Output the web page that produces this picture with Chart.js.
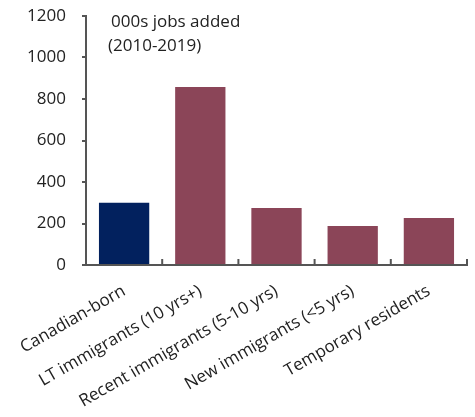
<!DOCTYPE html>
<html>
<head>
<meta charset="utf-8">
<script src="https://cdn.jsdelivr.net/npm/chart.js@4/dist/chart.umd.min.js"></script>
<style>
  html, body { margin: 0; padding: 0; background: #fff; }
  #wrap { width: 475px; height: 417px; position: relative; }
</style>
</head>
<body>
<div id="wrap"><canvas id="c"></canvas></div>
<script>
const categories = ["Canadian-born", "LT immigrants (10 yrs+)", "Recent immigrants (5-10 yrs)", "New immigrants (<5 yrs)", "Temporary residents"];
const jobsAdded = [300, 858, 275, 188, 226];
const barColors = ["#02215E", "#8B4558", "#8B4558", "#8B4558", "#8B4558"];
const titleLines = ["000s jobs added", "(2010-2019)"];

const FONT = "'Open Sans', sans-serif";
const AXIS = "#555555";

const decor = {
  id: 'decor',
  afterDraw(chart) {
    const ctx = chart.ctx;
    const x = chart.scales.x;
    const area = chart.chartArea;
    ctx.save();
    ctx.strokeStyle = AXIS;
    ctx.lineWidth = 2;
    const n = categories.length;
    for (let i = 0; i <= n; i++) {
      let px;
      if (i === 0) px = x.left;
      else if (i === n) px = x.right;
      else px = (x.getPixelForTick(i - 1) + x.getPixelForTick(i)) / 2;
      ctx.beginPath();
      ctx.moveTo(px, area.bottom);
      ctx.lineTo(px, area.bottom - 6);
      ctx.stroke();
    }
    ctx.fillStyle = "#222";
    ctx.font = "17px " + FONT;
    ctx.textBaseline = "middle";
    ctx.textAlign = "left";
    ctx.fillText(titleLines[0], area.left + 25, area.top + 6);
    ctx.fillText(titleLines[1], area.left + 22, area.top + 30);
    ctx.restore();
  }
};

new Chart(document.getElementById('c'), {
  type: 'bar',
  data: {
    labels: categories,
    datasets: [{
      data: jobsAdded,
      backgroundColor: barColors,
      borderWidth: 0,
      categoryPercentage: 0.66,
      barPercentage: 1.0
    }]
  },
  options: {
    responsive: true,
    maintainAspectRatio: false,
    animation: false,
    layout: { padding: { left: 0, right: 8, top: 16, bottom: 0 } },
    plugins: { legend: { display: false }, tooltip: { enabled: false }, title: { display: false } },
    scales: {
      x: {
        afterFit(scale) { scale.height = 152; },
        grid: { display: false },
        border: { display: true, color: AXIS, width: 2 },
        ticks: {
          color: "#222",
          font: { family: FONT, size: 17 },
          minRotation: 30,
          maxRotation: 30,
          autoSkip: false,
          padding: 8
        }
      },
      y: {
        min: 0,
        max: 1200,
        afterFit(scale) { scale.width = 86; scale.paddingTop = 0; },
        grid: { display: true, drawOnChartArea: false, drawTicks: true, tickLength: 4, color: AXIS, lineWidth: 2 },
        border: { display: true, color: AXIS, width: 2 },
        ticks: {
          stepSize: 200,
          color: "#222",
          font: { family: FONT, size: 17 },
          padding: 16,
          callback: (v) => String(v)
        }
      }
    }
  },
  plugins: [decor]
});
</script>
</body>
</html>
